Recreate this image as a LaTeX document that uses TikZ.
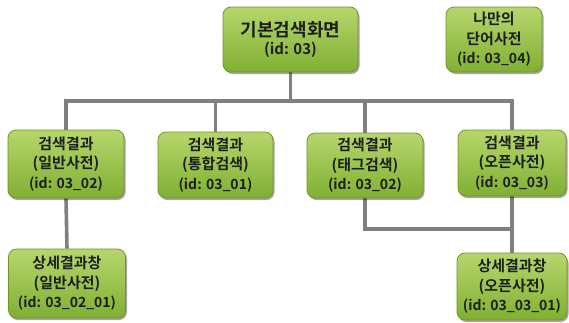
\documentclass[tikz,border=0pt]{standalone}
\usepackage{fontspec}
\setmainfont{Noto Sans CJK KR Bold}
\usetikzlibrary{shadows,backgrounds}
\definecolor{gtop}{RGB}{182,214,108}
\definecolor{gbot}{RGB}{128,176,50}
\definecolor{gborder}{RGB}{110,150,40}
\definecolor{linegray}{RGB}{128,128,128}
\definecolor{txt}{RGB}{30,30,30}
\newcommand{\idl}[1]{{\fontsize{14}{19.5}\selectfont #1}}
\tikzset{
  gbox/.style={draw=gborder, line width=0.8pt, rounded corners=8pt,
    top color=gtop, bottom color=gbot, inner sep=0pt, align=center,
    text=txt, font=\fontsize{15}{19.5}\selectfont,
    drop shadow={shadow xshift=1.5pt, shadow yshift=-2pt, opacity=0.35, fill=black}},
  conn/.style={draw=linegray, line width=3.6pt},
}
\begin{document}
\begin{tikzpicture}[x=1pt,y=-1pt]
\useasboundingbox (0,0) rectangle (569,322);
\node[gbox, minimum width=135pt, minimum height=65pt] (top) at (290.5,39.5)
  {{\fontsize{18}{21}\selectfont 기본검색화면}\\[-2pt]{\fontsize{15}{17}\selectfont (id: 03)}};
\node[gbox, minimum width=96pt, minimum height=65pt] (mine) at (494,39.5)
  {나만의\\단어사전\\\idl{(id: 03\_04)}};
\node[gbox, minimum width=116pt, minimum height=68pt] (r1) at (66,164)
  {검색결과\\(일반사전)\\\idl{(id: 03\_02)}};
\node[gbox, minimum width=115pt, minimum height=66pt] (r2) at (215.5,165)
  {검색결과\\(통합검색)\\\idl{(id: 03\_01)}};
\node[gbox, minimum width=116pt, minimum height=65pt] (r3) at (365,165.5)
  {검색결과\\(태그검색)\\\idl{(id: 03\_02)}};
\node[gbox, minimum width=108pt, minimum height=66pt] (r4) at (512,163)
  {검색결과\\(오픈사전)\\\idl{(id: 03\_03)}};
\node[gbox, minimum width=117pt, minimum height=69pt] (d1) at (67,283.5)
  {상세결과창\\(일반사전)\\\idl{(id: 03\_02\_01)}};
\node[gbox, minimum width=110pt, minimum height=67pt] (d4) at (512,286.5)
  {상세결과창\\(오픈사전)\\\idl{(id: 03\_03\_01)}};
\coordinate (hl) at (0,101);
\coordinate (hl2) at (0,229);
\begin{scope}[on background layer]
  \draw[conn] (top.south) -- (top.south |- hl);
  \draw[conn] (r1.north) -- (r1.north |- hl) -- (r4.north |- hl) -- (r4.north);
  \draw[conn] (r2.north) -- (r2.north |- hl);
  \draw[conn] (r3.north) -- (r3.north |- hl);
  \draw[conn] (r1.south) -- (d1.north);
  \draw[conn] (r3.south) |- (r4.south |- hl2);
  \draw[conn] (r4.south) -- (d4.north);
\end{scope}
\end{tikzpicture}
\end{document}
